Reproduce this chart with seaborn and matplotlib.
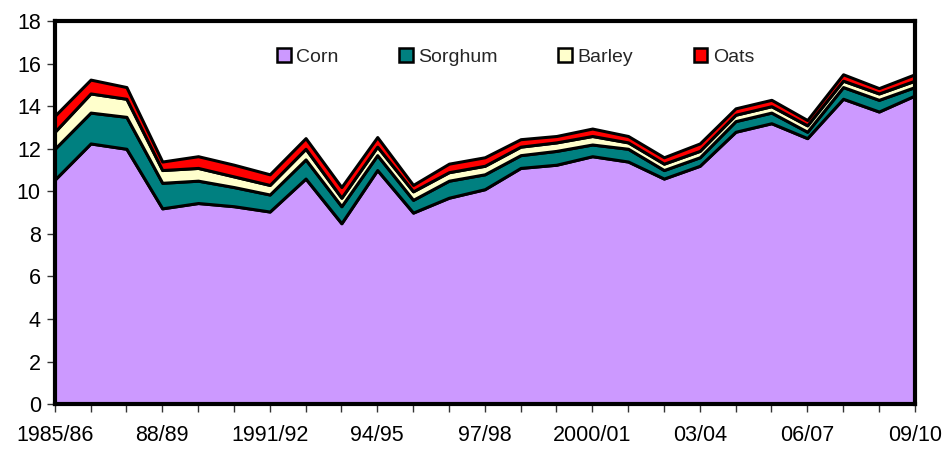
import numpy as np
import seaborn as sns
import matplotlib.pyplot as plt
from matplotlib.patches import Patch

# marketing years 1985/86 .. 2009/10
years = ["1985/86", "86/87", "87/88", "88/89", "89/90", "90/91", "1991/92", "92/93",
         "93/94", "94/95", "95/96", "96/97", "97/98", "98/99", "99/00", "2000/01",
         "01/02", "02/03", "03/04", "04/05", "05/06", "06/07", "07/08", "08/09", "09/10"]

# cumulative tops, converted to layer values below
corn_top = [10.55, 12.25, 12.0, 9.2, 9.45, 9.3, 9.05, 10.6, 8.5, 11.0, 9.0, 9.7, 10.1,
            11.1, 11.25, 11.65, 11.4, 10.6, 11.2, 12.8, 13.2, 12.5, 14.35, 13.75, 14.5]
sorghum_top = [12.0, 13.7, 13.5, 10.4, 10.5, 10.2, 9.85, 11.5, 9.3, 11.7, 9.6, 10.5, 10.8,
               11.7, 11.9, 12.2, 12.0, 11.0, 11.6, 13.3, 13.7, 12.8, 14.9, 14.3, 14.9]
barley_top = [12.8, 14.6, 14.35, 11.0, 11.1, 10.7, 10.3, 12.0, 9.7, 12.1, 10.0, 10.9, 11.2,
              12.1, 12.3, 12.6, 12.3, 11.3, 11.9, 13.6, 14.0, 13.1, 15.2, 14.6, 15.2]
oats_top = [13.55, 15.25, 14.9, 11.4, 11.65, 11.25, 10.8, 12.5, 10.2, 12.55, 10.3, 11.3, 11.6,
            12.45, 12.6, 12.95, 12.6, 11.6, 12.25, 13.9, 14.3, 13.35, 15.5, 14.85, 15.5]

corn = np.array(corn_top)
sorghum = np.array(sorghum_top) - np.array(corn_top)
barley = np.array(barley_top) - np.array(sorghum_top)
oats = np.array(oats_top) - np.array(barley_top)

labels = ["Corn", "Sorghum", "Barley", "Oats"]
colors = ["#CC99FF", "#008080", "#FFFFCC", "#FF0000"]

sns.set_theme(style="white")
plt.rcParams["font.family"] = ["Liberation Sans", "DejaVu Sans"]

fig = plt.figure(figsize=(9.44, 4.49), dpi=100)
ax = fig.add_axes([0.058, 0.10, 0.911, 0.853])

x = np.arange(len(years))
ax.stackplot(x, corn, sorghum, barley, oats, colors=colors,
             edgecolor="black", linewidth=2.2)

ax.set_xlim(0, len(years) - 1)
ax.set_ylim(0, 18)
ax.set_yticks(range(0, 19, 2))
ax.set_xticks(x, minor=True)
ax.set_xticks(x[::3])
ax.set_xticklabels(years[::3])
ax.tick_params(axis="both", which="both", direction="out", length=6, width=1,
               color="#333333", labelsize=15.5, labelcolor="black")
ax.tick_params(axis="x", which="both", bottom=True, pad=9)
ax.tick_params(axis="y", left=True, pad=4)

for side in ["top", "right", "left", "bottom"]:
    ax.spines[side].set_color("black")
    ax.spines[side].set_linewidth(3)

handles = [Patch(facecolor=c, edgecolor="black", linewidth=1.8) for c in colors]
ax.legend(handles, labels, loc="center", bbox_to_anchor=(0.536, 0.906), ncol=4,
          frameon=False, fontsize=14, handlelength=0.7, handleheight=0.7,
          handletextpad=0.3, columnspacing=3.1)

fig.savefig("out.png", dpi=100)
